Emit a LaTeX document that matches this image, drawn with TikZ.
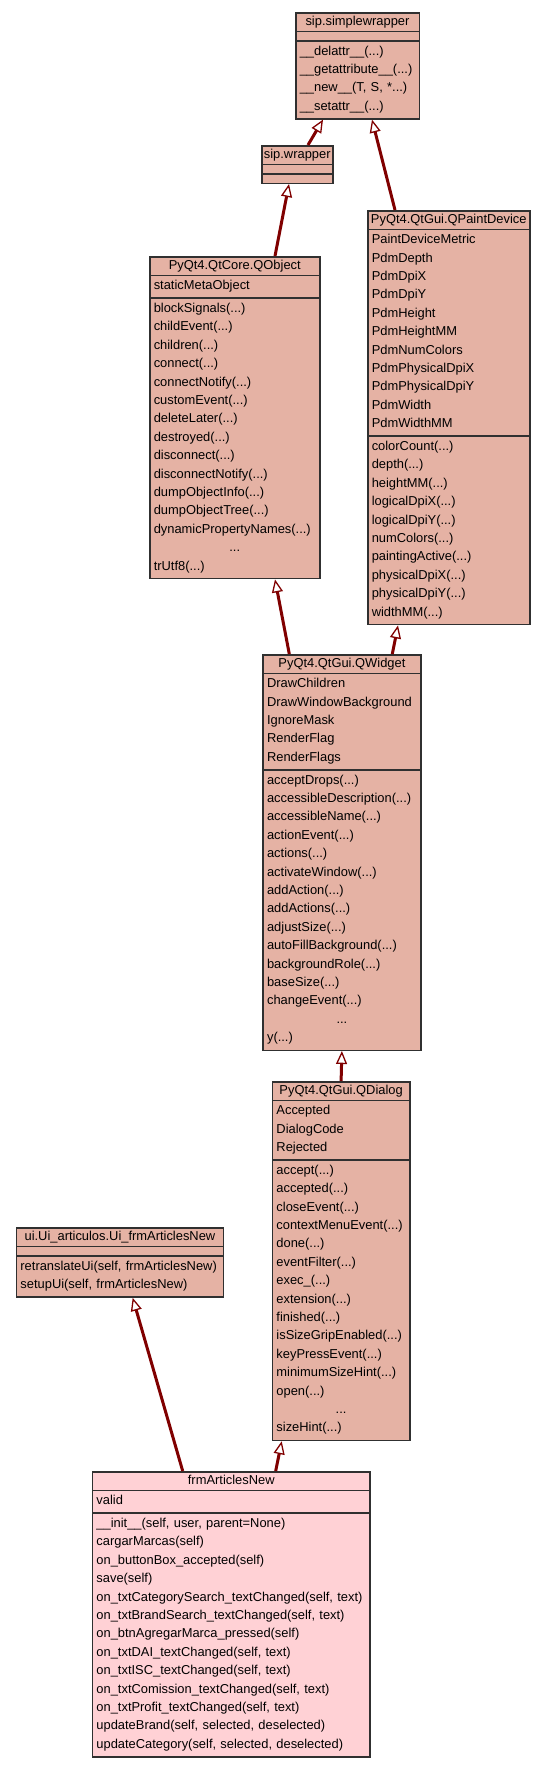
\documentclass[tikz,border=0pt]{standalone}
\usepackage{fontspec}
\setmainfont{Liberation Sans}
\usetikzlibrary{arrows.meta,shapes.multipart}
\definecolor{classfill}{RGB}{229,178,164}
\definecolor{ownfill}{RGB}{255,209,213}
\definecolor{classline}{RGB}{48,48,48}
\definecolor{inherit}{RGB}{128,0,0}
\hyphenpenalty=10000
\newcommand\rowstrut{\rule[-6.3pt]{0pt}{18.4pt}}
\newcommand\ttlstrut{\rule[-3.5pt]{0pt}{14pt}}
\newcommand\ctitle[1]{\ttlstrut\makebox[\linewidth]{#1}}
\newcommand\emptyrow{\rule{0pt}{5pt}}
\newcommand\dotsrow{\makebox[\linewidth]{...}}

\begin{document}
\begin{tikzpicture}[x=1pt, y=-1pt,
  umlclass/.style={rectangle split, rectangle split parts=3, draw=classline, fill=classfill,
    line width=1.5pt, inner xsep=4pt, inner ysep=1.5pt, align=left, anchor=north west,
    font=\fontsize{12.9}{18.4}\selectfont},
  extends/.style={draw=inherit, line width=3pt,
    -{Triangle[length=13pt, width=11pt, line width'=1.3pt, fill=white]}}]
\useasboundingbox (0,0) rectangle (544,1765);
% sip base classes
\node[umlclass, text width=115.5pt] (simplewrapper) at (295,12) {\ctitle{sip.simplewrapper}
  \nodepart{two}\emptyrow
  \nodepart{three}\rowstrut\_\_delattr\_\_(...)\\ \_\_getattribute\_\_(...)\\ \_\_new\_\_(T, S, *...)\\ \_\_setattr\_\_(...)\rowstrut};
\node[umlclass, text width=63pt] (wrapper) at (261,145) {\ctitle{sip.wrapper}
  \nodepart{two}\emptyrow
  \nodepart{three}\emptyrow};
% Qt classes
\node[umlclass, text width=162pt] (qobject) at (149,256) {\ctitle{PyQt4.QtCore.QObject}
  \nodepart{two}\rowstrut staticMetaObject\rowstrut
  \nodepart{three}\rowstrut blockSignals(...)\\ childEvent(...)\\ children(...)\\ connect(...)\\ connectNotify(...)\\
    customEvent(...)\\ deleteLater(...)\\ destroyed(...)\\ disconnect(...)\\ disconnectNotify(...)\\
    dumpObjectInfo(...)\\ dumpObjectTree(...)\\ dynamicPropertyNames(...)\\ \dotsrow\\ trUtf8(...)\rowstrut};
\node[umlclass, text width=154pt] (paintdevice) at (367,210) {\ctitle{PyQt4.QtGui.QPaintDevice}
  \nodepart{two}\rowstrut PaintDeviceMetric\\ PdmDepth\\ PdmDpiX\\ PdmDpiY\\ PdmHeight\\ PdmHeightMM\\
    PdmNumColors\\ PdmPhysicalDpiX\\ PdmPhysicalDpiY\\ PdmWidth\\ PdmWidthMM\rowstrut
  \nodepart{three}\rowstrut colorCount(...)\\ depth(...)\\ heightMM(...)\\ logicalDpiX(...)\\ logicalDpiY(...)\\
    numColors(...)\\ paintingActive(...)\\ physicalDpiX(...)\\ physicalDpiY(...)\\ widthMM(...)\rowstrut};
\node[umlclass, text width=149.7pt] (qwidget) at (262.3,654) {\ctitle{PyQt4.QtGui.QWidget}
  \nodepart{two}\rowstrut DrawChildren\\ DrawWindowBackground\\ IgnoreMask\\ RenderFlag\\ RenderFlags\rowstrut
  \nodepart{three}\rowstrut acceptDrops(...)\\ accessibleDescription(...)\\ accessibleName(...)\\ actionEvent(...)\\
    actions(...)\\ activateWindow(...)\\ addAction(...)\\ addActions(...)\\ adjustSize(...)\\
    autoFillBackground(...)\\ backgroundRole(...)\\ baseSize(...)\\ changeEvent(...)\\ \dotsrow\\ y(...)\rowstrut};
\node[umlclass, text width=129.3pt] (qdialog) at (271.7,1081) {\ctitle{PyQt4.QtGui.QDialog}
  \nodepart{two}\rowstrut Accepted\\ DialogCode\\ Rejected\rowstrut
  \nodepart{three}\rowstrut accept(...)\\ accepted(...)\\ closeEvent(...)\\ contextMenuEvent(...)\\ done(...)\\
    eventFilter(...)\\ exec\_(...)\\ extension(...)\\ finished(...)\\ isSizeGripEnabled(...)\\
    keyPressEvent(...)\\ minimumSizeHint(...)\\ open(...)\\ \dotsrow\\ sizeHint(...)\rowstrut};
% generated ui and the form
\node[umlclass, text width=199pt] (uiarticles) at (15.7,1227) {\ctitle{ui.Ui\_articulos.Ui\_frmArticlesNew}
  \nodepart{two}\emptyrow
  \nodepart{three}\rowstrut retranslateUi(self, frmArticlesNew)\\ setupUi(self, frmArticlesNew)\rowstrut};
\node[umlclass, fill=ownfill, text width=269.6pt] (articlesnew) at (91.7,1471) {\ctitle{frmArticlesNew}
  \nodepart{two}\rowstrut valid\rowstrut
  \nodepart{three}\rowstrut \_\_init\_\_(self, user, parent=None)\\ cargarMarcas(self)\\ on\_buttonBox\_accepted(self)\\
    save(self)\\ on\_txtCategorySearch\_textChanged(self, text)\\ on\_txtBrandSearch\_textChanged(self, text)\\
    on\_btnAgregarMarca\_pressed(self)\\ on\_txtDAI\_textChanged(self, text)\\ on\_txtISC\_textChanged(self, text)\\
    on\_txtComission\_textChanged(self, text)\\ on\_txtProfit\_textChanged(self, text)\\
    updateBrand(self, selected, deselected)\\ updateCategory(self, selected, deselected)\rowstrut};
% inheritance
\draw[extends] ([xshift=47pt]wrapper.north west) -- ([xshift=28pt]simplewrapper.south west);
\draw[extends] ([xshift=28pt]paintdevice.north west) -- ([xshift=77pt]simplewrapper.south west);
\draw[extends] ([xshift=126pt]qobject.north west) -- ([xshift=28pt]wrapper.south west);
\draw[extends] ([xshift=27pt]qwidget.north west) -- ([xshift=126pt]qobject.south west);
\draw[extends] ([xshift=130pt]qwidget.north west) -- ([xshift=31pt]paintdevice.south west);
\draw[extends] (qdialog.north) -- (qwidget.south);
\draw[extends] ([xshift=184pt]articlesnew.north west) -- ([xshift=10pt]qdialog.south west);
\draw[extends] ([xshift=91pt]articlesnew.north west) -- ([xshift=117pt]uiarticles.south west);
\end{tikzpicture}
\end{document}
